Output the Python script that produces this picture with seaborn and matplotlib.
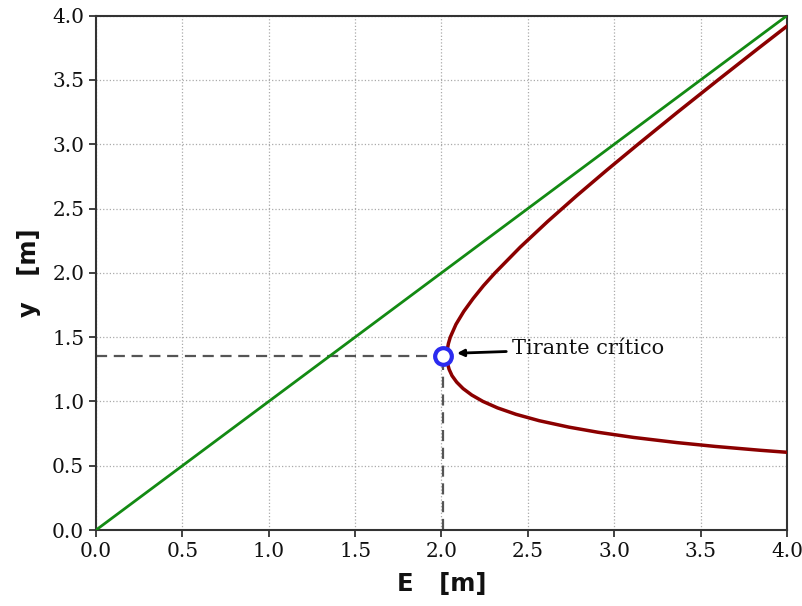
import matplotlib
matplotlib.use("Agg")
import matplotlib.pyplot as plt
import seaborn as sns
import pandas as pd

# Specific energy curve
y_curve = [0.60, 0.62, 0.65, 0.68, 0.72, 0.76, 0.80, 0.85, 0.90, 0.95, 1.00, 1.05,
           1.10, 1.15, 1.20, 1.25, 1.30, 1.35, 1.40, 1.45, 1.50, 1.60, 1.70, 1.80,
           1.90, 2.00, 2.20, 2.40, 2.60, 2.80, 3.00, 3.25, 3.50, 3.75, 4.00]
E_curve = [4.044, 3.846, 3.585, 3.362, 3.112, 2.907, 2.738, 2.566, 2.431, 2.324, 2.240, 2.175,
           2.125, 2.088, 2.061, 2.044, 2.034, 2.030, 2.033, 2.040, 2.051, 2.084, 2.129, 2.183,
           2.243, 2.310, 2.456, 2.615, 2.783, 2.958, 3.138, 3.367, 3.601, 3.838, 4.078]
# line E = y
E_line = [0.0, 4.0]
y_line = [0.0, 4.0]
# critical point
E_crit = 2.01
y_crit = 1.355
ticks = [0.0, 0.5, 1.0, 1.5, 2.0, 2.5, 3.0, 3.5, 4.0]

sns.set_style("white")
plt.rcParams['font.family'] = ['DejaVu Serif']

fig = plt.figure(figsize=(8.03, 6.06), dpi=100)
ax = fig.add_axes([0.1196, 0.1254, 0.8604, 0.8487])

df_curve = pd.DataFrame({"E": E_curve, "y": y_curve})
df_line = pd.DataFrame({"E": E_line, "y": y_line})

sns.lineplot(data=df_line, x="E", y="y", sort=False, color="#138a13", lw=2, ax=ax, zorder=3)
sns.lineplot(data=df_curve, x="E", y="y", sort=False, color="#8b0000", lw=2.5, ax=ax, zorder=3)

ax.plot([0, E_crit], [y_crit, y_crit], ls=(0, (5, 3)), color="#555555", lw=1.6, zorder=2)
ax.plot([E_crit, E_crit], [0, y_crit], ls=(0, (5, 3)), color="#555555", lw=1.6, zorder=2)
ax.plot([E_crit], [y_crit], marker="o", ms=12, mfc="white", mec="#2b2bf0", mew=3, zorder=5)

ax.annotate("Tirante crítico", xy=(E_crit + 0.08, y_crit + 0.02), xytext=(2.41, 1.41),
            fontsize=15, va="center", ha="left", color="#111111",
            arrowprops=dict(arrowstyle="-|>", color="black", lw=2, mutation_scale=10,
                            shrinkA=2, shrinkB=0))

ax.set_xlim(0, 4)
ax.set_ylim(0, 4)
ax.set_xticks(ticks)
ax.set_yticks(ticks)
ax.set_xticklabels([f"{t:.1f}" for t in ticks])
ax.set_yticklabels([f"{t:.1f}" for t in ticks])
ax.tick_params(axis="both", labelsize=14.5, direction="out", length=5, width=1.3,
               color="#333333", labelcolor="#111111", bottom=True, left=True)
ax.grid(True, ls=":", color="#aaaaaa", lw=0.9)
for s in ax.spines.values():
    s.set_color("#333333")
    s.set_linewidth(1.5)

ax.set_xlabel("E   [m]", fontsize=17.5, fontweight="bold", family="DejaVu Sans", labelpad=8,
              color="#111111")
ax.set_ylabel("y   [m]", fontsize=17.5, fontweight="bold", family="DejaVu Sans", labelpad=8,
              color="#111111")

fig.savefig("out.png", dpi=100)
